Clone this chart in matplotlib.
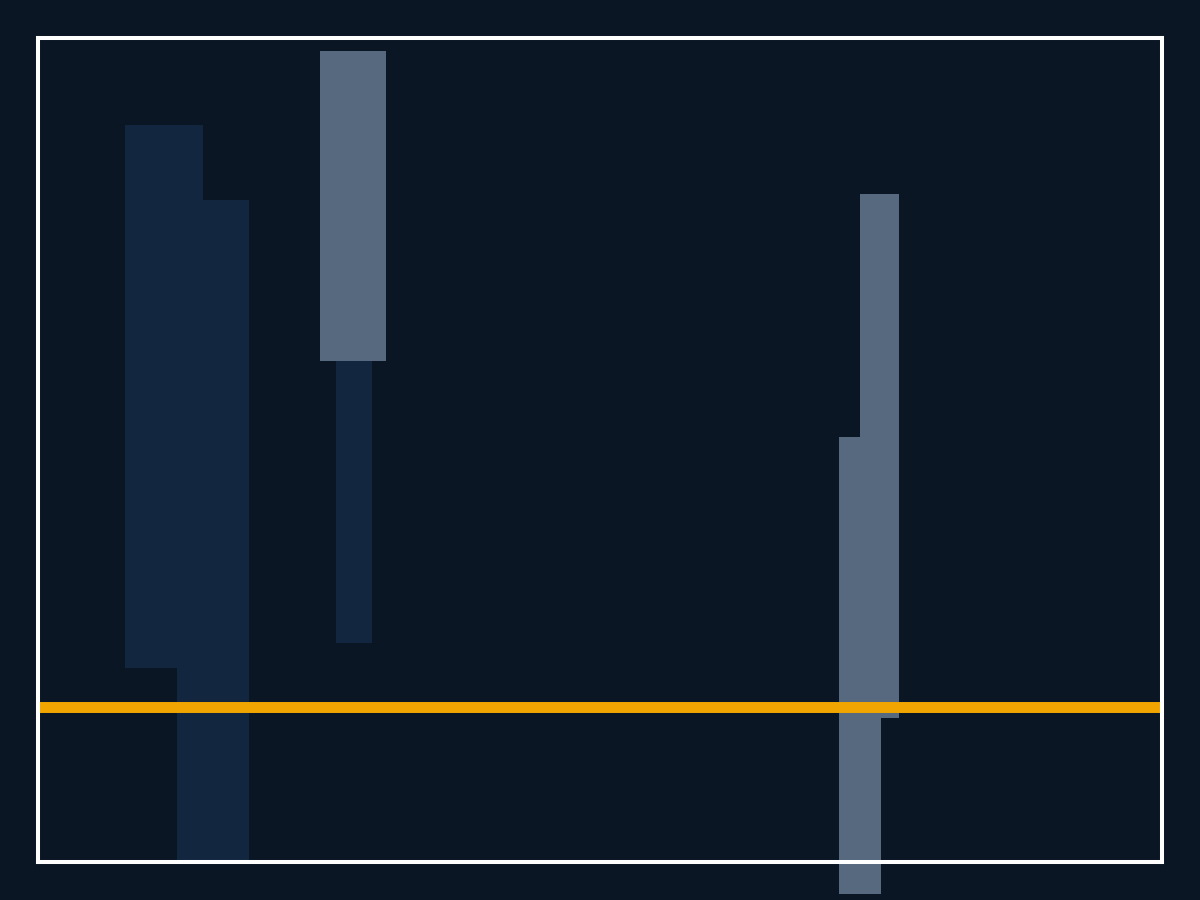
import matplotlib
matplotlib.use("Agg")
import matplotlib.pyplot as plt

# blocks in axis units (0-100 on both axes)
dark_left = [7.74, 12.37, 26.51]
dark_right = [14.68, 18.77, 29.72]
dark_bottom = [23.54, 0.0, 26.58]
dark_top = [89.44, 80.34, 70.0]

light_left = [25.09, 73.13, 71.26]
light_right = [30.96, 76.60, 75.00]
light_bottom = [60.80, 17.48, -3.88]
light_top = [98.42, 81.07, 51.58]

threshold = 18.87

bg = "#0b1624"

fig = plt.figure(figsize=(12, 9), dpi=100, facecolor=bg)
ax = fig.add_axes([38 / 1200, 38 / 900, 1124 / 1200, 824 / 900])
ax.set_facecolor(bg)
ax.set_xlim(0, 100)
ax.set_ylim(0, 100)

ax.bar(dark_left,
       [t - b for b, t in zip(dark_bottom, dark_top)],
       width=[r - l for l, r in zip(dark_left, dark_right)],
       bottom=dark_bottom,
       align="edge", color="#13263f", linewidth=0, clip_on=False, zorder=1)

ax.bar(light_left,
       [t - b for b, t in zip(light_bottom, light_top)],
       width=[r - l for l, r in zip(light_left, light_right)],
       bottom=light_bottom,
       align="edge", color="#57697e", linewidth=0, clip_on=False, zorder=2)

ax.axhline(threshold, color="#f0a500", linewidth=7.9, zorder=3)

for s in ax.spines.values():
    s.set_color("white")
    s.set_linewidth(2.9)
    s.set_zorder(5)
ax.set_xticks([])
ax.set_yticks([])

plt.savefig("out.png", dpi=100, facecolor=bg)
plt.close()
